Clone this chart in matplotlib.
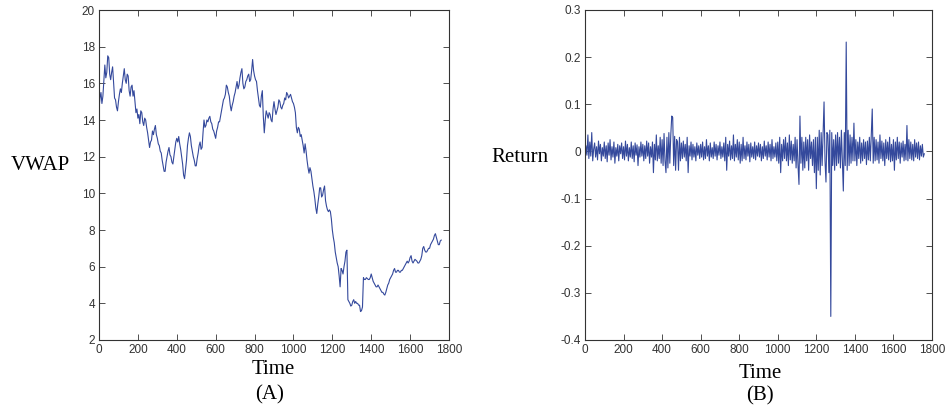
import numpy as np
from matplotlib import pyplot as plt

# VWAP, one value every 5 time steps (t = 0 .. 1760)
vwap_step = 5
vwap = [
    14.6, 15.2, 15.5, 14.9, 15.3, 16.2, 17.0, 16.3, 16.6, 17.5, 17.4, 16.5, 16.2, 16.6, 16.9, 16.0, 15.2, 15.1, 14.7, 14.5,
    15.0, 15.4, 15.7, 15.5, 16.0, 16.4, 16.8, 16.2, 16.0, 16.5, 16.4, 15.6, 15.3, 15.8, 15.9, 15.3, 15.6, 15.0, 14.4, 14.6,
    14.1, 14.3, 13.8, 14.5, 14.4, 13.9, 13.7, 14.1, 14.0, 13.6, 13.3, 12.9, 12.5, 12.8, 12.9, 13.4, 13.2, 13.5, 13.7, 13.2,
    13.0, 12.7, 12.6, 12.3, 12.2, 11.8, 11.5, 11.2, 11.2, 11.7, 12.0, 12.3, 12.5, 12.1, 12.0, 11.7, 11.6, 12.0, 12.4, 12.8,
    13.0, 12.8, 13.1, 12.7, 12.4, 12.0, 11.6, 11.0, 10.8, 11.3, 11.8, 12.6, 13.0, 13.3, 13.1, 12.6, 12.3, 12.0, 11.8, 11.5,
    11.5, 11.9, 12.2, 12.6, 12.8, 12.4, 12.5, 13.3, 14.0, 13.6, 13.7, 14.0, 13.9, 14.1, 14.2, 13.9, 13.8, 13.5, 13.4, 13.2,
    13.0, 13.4, 13.6, 13.9, 13.9, 14.2, 14.5, 14.8, 15.1, 15.2, 15.4, 15.9, 15.8, 15.5, 15.3, 14.8, 14.5, 14.8, 15.0, 15.3,
    15.5, 15.8, 16.1, 15.7, 15.9, 16.3, 16.6, 16.8, 16.0, 15.7, 15.8, 16.1, 16.2, 16.4, 16.5, 16.1, 16.2, 16.7, 17.3, 16.7,
    16.4, 16.2, 16.1, 15.6, 15.2, 14.8, 14.7, 15.3, 15.6, 14.2, 13.3, 14.0, 14.5, 14.3, 14.1, 14.4, 14.3, 14.0, 13.9, 14.6,
    15.0, 14.6, 14.3, 14.5, 14.7, 15.1, 15.0, 14.7, 14.6, 14.8, 14.9, 15.2, 15.1, 15.5, 15.4, 15.2, 15.3, 15.4, 15.2, 15.0,
    14.9, 14.7, 14.4, 13.6, 13.3, 13.6, 13.5, 13.1, 13.2, 12.9, 12.6, 12.2, 12.7, 12.3, 11.8, 11.4, 11.1, 11.4, 11.2, 10.8,
    10.4, 10.1, 9.7, 9.2, 8.9, 9.4, 9.8, 10.3, 10.3, 9.8, 9.9, 10.2, 10.4, 9.6, 9.3, 9.1, 9.0, 9.1, 9.0, 8.6,
    8.0, 7.6, 7.3, 6.8, 6.5, 6.2, 6.0, 5.5, 4.9, 5.9, 5.8, 5.6, 6.0, 6.3, 6.8, 6.9, 4.2, 4.1, 4.0, 3.85,
    3.9, 4.1, 4.2, 4.0, 4.1, 4.0, 4.0, 3.9, 3.9, 3.55, 3.6, 3.8, 5.4, 5.3, 5.3, 5.4, 5.35, 5.3, 5.3, 5.4,
    5.6, 5.4, 5.2, 5.1, 5.0, 4.9, 4.9, 5.0, 4.9, 4.8, 4.7, 4.6, 4.6, 4.5, 4.45, 4.6, 4.8, 5.0, 5.1, 5.3,
    5.4, 5.5, 5.6, 5.8, 5.9, 5.7, 5.7, 5.8, 5.8, 5.7, 5.7, 5.8, 5.8, 5.9, 6.0, 6.1, 6.2, 6.3, 6.2, 6.3,
    6.5, 6.6, 6.3, 6.2, 6.3, 6.4, 6.35, 6.3, 6.2, 6.2, 6.3, 6.4, 6.6, 7.0, 7.1, 6.9, 6.8, 6.8, 6.9, 7.0,
    7.0, 7.2, 7.3, 7.4, 7.5, 7.7, 7.8, 7.6, 7.4, 7.2, 7.2, 7.4, 7.45,
]

# returns, one value every 5 time steps (t = 0 .. 1760)
ret_step = 5
returns = [
    -0.025, 0.012, -0.008, 0.035, -0.015, 0.02, -0.01, 0.04, -0.02, 0.005, 0.018, -0.012, 0.01, -0.018, 0.022, -0.005, 0.015, -0.02, 0.008, -0.01,
    0.02, -0.015, 0.012, -0.022, 0.018, -0.008, 0.025, -0.018, 0.01, -0.012, 0.02, -0.025, 0.008, -0.01, 0.015, -0.02, 0.012, -0.005, 0.018, -0.015,
    0.01, -0.018, 0.022, -0.01, 0.015, -0.02, 0.008, -0.012, 0.02, -0.015, 0.012, -0.022, 0.018, -0.008, 0.014, -0.03, 0.01, -0.012, 0.02, -0.01,
    0.015, -0.02, 0.012, -0.015, 0.022, -0.01, 0.018, -0.025, 0.01, -0.012, 0.02, -0.045, 0.015, -0.018, 0.035, -0.02, 0.012, -0.015, 0.03, -0.025,
    0.025, -0.03, 0.038, -0.02, -0.045, 0.03, -0.035, 0.04, -0.025, 0.035, 0.075, 0.072, -0.03, 0.032, -0.04, 0.025, 0.02, -0.04, 0.03, -0.02,
    0.018, -0.015, 0.022, -0.012, 0.015, -0.02, 0.03, -0.045, 0.012, -0.01, 0.02, -0.018, 0.015, -0.012, 0.01, -0.02, 0.018, -0.008, 0.012, -0.015,
    0.015, -0.012, 0.02, -0.018, 0.01, -0.015, 0.025, -0.01, 0.012, -0.02, 0.018, -0.012, 0.008, -0.015, 0.02, -0.01, 0.015, -0.018, 0.012, -0.008,
    0.02, -0.015, 0.01, -0.012, 0.018, -0.02, 0.03, -0.04, 0.015, -0.01, 0.022, -0.018, 0.012, -0.015, 0.035, -0.02, 0.015, -0.012, 0.025, -0.018,
    0.02, -0.025, 0.015, -0.02, 0.03, -0.015, 0.012, -0.018, 0.02, -0.01, 0.015, -0.022, 0.018, -0.012, 0.01, -0.015, 0.02, -0.018, 0.012, -0.01,
    0.018, -0.012, 0.015, -0.02, 0.01, -0.015, 0.022, -0.01, 0.012, -0.018, 0.02, -0.012, 0.015, -0.02, 0.025, -0.015, 0.01, -0.012, 0.018, -0.02,
    0.02, -0.025, 0.03, -0.045, 0.015, -0.02, 0.025, -0.015, 0.03, -0.02, 0.018, -0.03, 0.035, -0.018, 0.022, -0.025, 0.015, -0.02, 0.03, -0.035,
    0.025, -0.03, -0.07, 0.075, -0.025, 0.03, -0.04, 0.02, -0.035, 0.03, -0.02, 0.025, -0.04, 0.035, -0.015, 0.02, -0.03, 0.025, -0.045, 0.03,
    -0.079, 0.03, -0.04, 0.045, -0.05, 0.04, -0.03, 0.035, 0.105, -0.02, -0.065, 0.04, 0.035, -0.045, 0.045, -0.35, 0.04, -0.03, 0.025, -0.04,
    0.035, -0.03, 0.04, -0.025, 0.03, -0.035, 0.045, -0.02, -0.084, 0.04, -0.03, 0.232, -0.04, 0.045, -0.03, 0.035, -0.025, 0.03, -0.02, 0.06,
    -0.02, 0.025, -0.03, 0.02, -0.015, 0.03, -0.025, 0.018, -0.02, 0.025, -0.015, 0.02, -0.028, 0.022, -0.018, 0.03, -0.02, 0.035, 0.09, -0.025,
    0.03, -0.02, 0.025, -0.018, 0.02, -0.025, 0.035, -0.015, 0.022, -0.02, 0.018, -0.03, 0.025, -0.015, 0.02, -0.018, 0.03, -0.022, 0.015, -0.02,
    0.025, -0.04, 0.02, -0.018, 0.03, -0.015, 0.02, -0.025, 0.018, -0.012, 0.022, -0.02, 0.015, -0.018, 0.055, -0.02, 0.025, -0.015, 0.02, -0.018,
    0.015, -0.02, 0.025, -0.012, 0.018, -0.015, 0.02, -0.018, 0.012, -0.01, 0.015, -0.012, -0.005,
]

x_ticks = [0, 200, 400, 600, 800, 1000, 1200, 1400, 1600, 1800]
vwap_ticks = [2, 4, 6, 8, 10, 12, 14, 16, 18, 20]
ret_ticks = [-0.4, -0.3, -0.2, -0.1, 0, 0.1, 0.2, 0.3]
ret_labels = ['-0.4', '-0.3', '-0.2', '-0.1', '0', '0.1', '0.2', '0.3']

LINE = '#34499c'
TICKFONT = 'Liberation Sans'
LABELFONT = 'Liberation Serif'

fig = plt.figure(figsize=(9.48, 4.09), dpi=100)
W, H = 948, 409


def box(ax):
    ax.tick_params(direction='in', length=4, width=0.6, top=True, right=True,
                   labelsize=8.5, colors='#333333', pad=3)
    for lbl in ax.get_xticklabels() + ax.get_yticklabels():
        lbl.set_fontfamily(TICKFONT)
    for s in ax.spines.values():
        s.set_linewidth(0.8)
        s.set_color('#333333')


# (A) VWAP
ax1 = fig.add_axes([99 / W, 1 - 340 / H, 350 / W, 330 / H])
t1 = np.arange(len(vwap)) * vwap_step
ax1.plot(t1, vwap, color=LINE, linewidth=0.8)
ax1.set_xlim(0, 1800)
ax1.set_ylim(2, 20)
ax1.set_xticks(x_ticks)
ax1.set_yticks(vwap_ticks)
box(ax1)
fig.text(70 / W, 1 - 165 / H, 'VWAP', ha='right', va='center',
         family=LABELFONT, fontsize=15)
fig.text(273 / W, 1 - 370 / H, 'Time', ha='center', va='center',
         family=LABELFONT, fontsize=15)
fig.text(270 / W, 1 - 395 / H, '(A)', ha='center', va='center',
         family=LABELFONT, fontsize=15)

# (B) Return
ax2 = fig.add_axes([585 / W, 1 - 340 / H, 347 / W, 330 / H])
t2 = np.arange(len(returns)) * ret_step
ax2.plot(t2, returns, color=LINE, linewidth=0.8)
ax2.set_xlim(0, 1800)
ax2.set_ylim(-0.4, 0.3)
ax2.set_xticks(x_ticks)
ax2.set_yticks(ret_ticks)
ax2.set_yticklabels(ret_labels)
box(ax2)
fig.text(548 / W, 1 - 158 / H, 'Return', ha='right', va='center',
         family=LABELFONT, fontsize=15)
fig.text(760 / W, 1 - 374 / H, 'Time', ha='center', va='center',
         family=LABELFONT, fontsize=15)
fig.text(760 / W, 1 - 396 / H, '(B)', ha='center', va='center',
         family=LABELFONT, fontsize=15)

fig.savefig('out.png', dpi=100)
plt.close(fig)
